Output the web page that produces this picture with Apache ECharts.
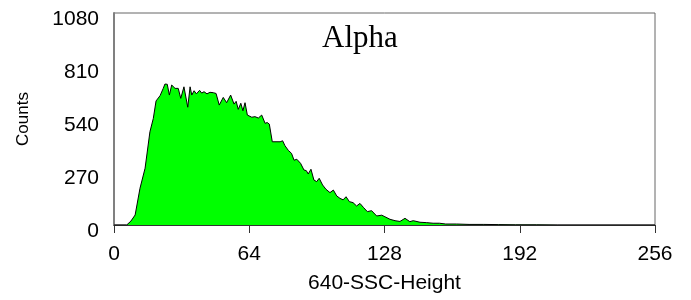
<!DOCTYPE html>
<html>
<head>
<meta charset="utf-8">
<script src="https://cdn.jsdelivr.net/npm/echarts@6/dist/echarts.min.js"></script>
<style>
  html, body { margin: 0; padding: 0; background: #fff; }
  #chart { width: 691px; height: 300px; }
</style>
</head>
<body>
<div id="chart"></div>
<script>
// channel positions (640-SSC-Height) and counts
const channels = [0, 6, 6.8, 8, 10, 12.3, 14.7, 17, 18.6, 19.9, 21.8, 23.3, 24.1, 25.2, 26.2, 27.3, 28.9, 30.4,
  31.6, 33.1, 34, 34.9, 36, 36.8, 37.9, 39, 40.5, 41.5, 42.6, 44, 45.4, 47, 48.3, 49.8, 51.7, 53.3, 55.2, 56.8,
  57.8, 58.8, 60, 61, 62, 63.1, 65.2, 66.7, 68.3, 69.9, 71.5, 72.5, 73.5, 74.9, 78.6, 79.8, 80.9, 82.5, 84, 85.2,
  86.5, 88.3, 89.9, 91, 91.9, 93.2, 94.6, 95.9, 97.1, 98.7, 100.3, 102.2, 103.8, 105.4, 106.9, 108.4, 109.8,
  111.4, 113.1, 114.8, 116.4, 118, 119.9, 121.9, 124.3, 126.7, 128.2, 130.6, 133, 135.3, 137.7, 140, 141.6,
  144.8, 148, 151, 154, 157, 162, 168, 175, 182, 190, 200, 210, 256];
const counts = [0, 0, 9, 20, 51, 187, 289, 475, 543, 632, 659, 696, 718, 717, 662, 713, 696, 696,
  645, 704, 700, 600, 704, 662, 684, 668, 686, 672, 679, 668, 676, 674, 670, 611, 650, 623, 662, 616,
  630, 589, 620, 582, 623, 560, 549, 552, 545, 560, 518, 522, 514, 424, 424, 429, 404, 380, 365, 330,
  335, 314, 280, 277, 260, 284, 229, 221, 238, 204, 182, 165, 178, 148, 136, 128, 144,
  119, 114, 97, 110, 90, 68, 73, 46, 50, 42, 29, 22, 18, 34, 17, 22,
  14, 12, 9, 9, 5, 5, 3, 3, 2, 1, 1, 0, 0];
const xTicks = [0, 64, 128, 192, 256];
const yTicks = [0, 270, 540, 810, 1080];

const chart = echarts.init(document.getElementById('chart'));
chart.setOption({
  backgroundColor: '#fff',
  animation: false,
  title: {
    text: 'Alpha',
    left: 317,
    top: 18,
    textStyle: { fontFamily: 'Liberation Serif', fontSize: 31, fontWeight: 'normal', color: '#000' },
  },
  grid: {
    left: 114, right: 36, top: 13, bottom: 75,
    show: true, borderColor: '#666', borderWidth: 1,
  },
  xAxis: {
    type: 'value',
    min: xTicks[0],
    max: xTicks[xTicks.length - 1],
    interval: 64,
    name: '640-SSC-Height',
    nameLocation: 'middle',
    nameGap: 48,
    nameTextStyle: { fontFamily: 'Liberation Sans', fontSize: 21, color: '#000' },
    axisLine: { show: true, lineStyle: { color: '#333', width: 1 } },
    axisTick: { show: true, length: 8, lineStyle: { color: '#333' } },
    axisLabel: { fontFamily: 'Liberation Sans', fontSize: 21, color: '#000', margin: 19 },
    splitLine: { show: false },
  },
  yAxis: {
    type: 'value',
    min: yTicks[0],
    max: yTicks[yTicks.length - 1],
    interval: 270,
    name: 'Counts',
    nameLocation: 'middle',
    nameRotate: 90,
    nameGap: 82,
    nameTextStyle: { fontFamily: 'Liberation Sans', fontSize: 17, color: '#000' },
    axisLine: { show: true, lineStyle: { color: '#808080', width: 2 } },
    axisTick: { show: false },
    axisLabel: {
      color: '#000', margin: 15,
      formatter: v => '{v|' + v + '}',
      rich: {
        v: { fontFamily: 'Liberation Sans', fontSize: 21, color: '#000', padding: [13, 0, 0, 0] },
      },
    },
    splitLine: { show: false },
  },
  series: [{
    type: 'line',
    data: channels.map((c, i) => [c, counts[i]]),
    symbol: 'none',
    lineStyle: { color: '#000', width: 1 },
    areaStyle: { color: '#00ff00', opacity: 1 },
  }],
});
</script>
</body>
</html>
